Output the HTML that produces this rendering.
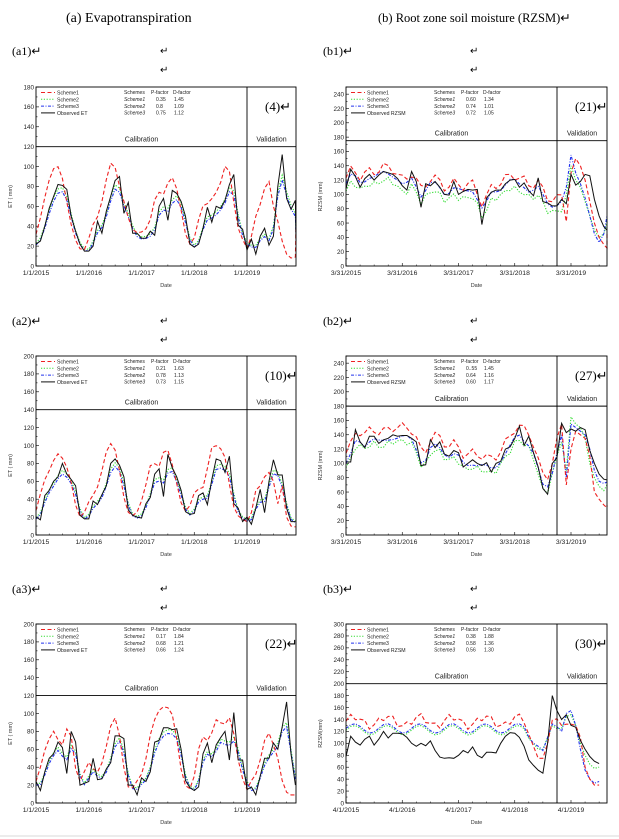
<!DOCTYPE html>
<html><head><meta charset="utf-8"><style>
html,body{margin:0;padding:0;background:#fff;width:619px;height:839px;overflow:hidden}
svg text{font-family:"Liberation Sans",sans-serif}
.s{font-family:"Liberation Serif",serif}
</style></head><body>
<svg id="g" width="619" height="839" xmlns="http://www.w3.org/2000/svg">
<text class="s" x="66" y="22" font-size="14">(a)  Evapotranspiration</text>
<text class="s" x="378" y="22" font-size="12.5">(b)  Root zone soil moisture (RZSM)↵</text>
<text class="s" x="12" y="55" font-size="12">(a1)↵</text><text class="s" x="160" y="54" font-size="10">↵</text><text class="s" x="160" y="73" font-size="10">↵</text>
<text class="s" x="323" y="55" font-size="12">(b1)↵</text><text class="s" x="470" y="54" font-size="10">↵</text><text class="s" x="470" y="73" font-size="10">↵</text>
<text class="s" x="12" y="325" font-size="12">(a2)↵</text><text class="s" x="160" y="324" font-size="10">↵</text><text class="s" x="160" y="343" font-size="10">↵</text>
<text class="s" x="323" y="325" font-size="12">(b2)↵</text><text class="s" x="470" y="324" font-size="10">↵</text><text class="s" x="470" y="343" font-size="10">↵</text>
<text class="s" x="12" y="593" font-size="12">(a3)↵</text><text class="s" x="160" y="592" font-size="10">↵</text><text class="s" x="160" y="611" font-size="10">↵</text>
<text class="s" x="323" y="593" font-size="12">(b3)↵</text><text class="s" x="470" y="592" font-size="10">↵</text><text class="s" x="470" y="611" font-size="10">↵</text>
<line x1="0" y1="836" x2="619" y2="836" stroke="#ccc" stroke-width="0.7"/>
</svg>
<script>
var NS="http://www.w3.org/2000/svg",G=document.getElementById("g");
function el(t,a,txt){var e=document.createElementNS(NS,t);for(var k in a)e.setAttribute(k,a[k]);if(txt!=null)e.textContent=txt;G.appendChild(e);return e;}
function sm(a){return a.map(function(v,i){var p=a[Math.max(0,i-1)],n=a[Math.min(a.length-1,i+1)];return (p+2*v+n)/4;});}
function panel(c){
 var L=c.L,R=c.R,T=c.T,B=c.B,ym=c.ymax,sy=function(v){return B-(v/ym)*(B-T);};
 for(var v=0;v<=ym;v+=10){var y=sy(v);var maj=v%20==0;
  el("line",{x1:L,y1:y,x2:L+(maj?3:1.5),y2:y,stroke:"#000","stroke-width":0.6});
  if(maj)el("text",{x:L-2,y:y+2.3,"font-size":6.3,"text-anchor":"end",fill:"#222"},v);}
 for(var k=0;k<c.xl.length;k++){var x=c.x0+k*c.dx;el("line",{x1:x,y1:B,x2:x,y2:B-3,stroke:"#000","stroke-width":0.6});
  el("text",{x:x,y:B+9,"font-size":6.8,"text-anchor":"middle",fill:"#222"},c.xl[k]);
  for(var m=1;m<4;m++){var xx=x+m*c.dx/4;if(xx<R)el("line",{x1:xx,y1:B,x2:xx,y2:B-1.5,stroke:"#000","stroke-width":0.5});}}
 el("text",{x:(L+R)/2,y:B+21,"font-size":5.5,"text-anchor":"middle",fill:"#333"},"Date");
 var yl=(L-24),ym2=(T+B)/2+20;el("text",{x:yl,y:ym2,"font-size":5.5,"text-anchor":"middle",fill:"#333",transform:"rotate(-90 "+yl+" "+ym2+")"},c.ylab);
 var hy=sy(c.hv);
 var dx=c.step,n=c.obs.length;
 function path(a,st,dash,w){var d="";for(var i=0;i<a.length;i++){var x=c.x0+i*dx;if(x>R)x=R;d+=(i?"L":"M")+x.toFixed(1)+","+sy(Math.max(0,a[i])).toFixed(1);}
  var at={d:d,fill:"none",stroke:st,"stroke-width":w||1};if(dash)at["stroke-dasharray"]=dash;el("path",at);}
 path(c.s2,"#33dd33","1.2 1.6",1.1);path(c.s3,"#2233ee","3 1.5 1 1.5",1.1);path(c.s1,"#ee2222","4 2.5",1.1);path(c.obs,"#111",null,1);
 el("rect",{x:L,y:T,width:R-L,height:B-T,fill:"none",stroke:"#000","stroke-width":0.9});
 el("line",{x1:L,y1:hy,x2:R,y2:hy,stroke:"#000","stroke-width":0.9});
 el("line",{x1:c.vx,y1:T,x2:c.vx,y2:B,stroke:"#000","stroke-width":0.9});
 el("text",{x:(L+c.vx)/2,y:hy-5,"font-size":7,"text-anchor":"middle",fill:"#222"},"Calibration");
 el("text",{x:(c.vx+R)/2,y:hy-5,"font-size":7,"text-anchor":"middle",fill:"#222"},"Validation");
 el("text",{x:c.vx+18,y:T+24,"font-size":13,"class":"s"},"("+c.num+")↵");
 var lg=[["#ee2222","4 2.5","Scheme1"],["#33dd33","1.2 1.6","Scheme2"],["#2233ee","3 1.5 1 1.5","Scheme3"],["#111",null,c.oname]];
 for(var j=0;j<4;j++){var y=T+5.5+j*6.8;var at={x1:L+5,y1:y,x2:L+19,y2:y,stroke:lg[j][0],"stroke-width":1};if(lg[j][1])at["stroke-dasharray"]=lg[j][1];el("line",at);
  el("text",{x:L+21,y:y+2,"font-size":5.2,fill:"#222"},lg[j][2]);}
 var tx=L+88;el("text",{x:tx,y:T+7,"font-size":5,fill:"#222"},"Schemes");el("text",{x:tx+27,y:T+7,"font-size":5,fill:"#222"},"P-factor");el("text",{x:tx+49,y:T+7,"font-size":5,fill:"#222"},"D-factor");
 for(j=0;j<3;j++){var y=T+14+j*6.8;el("text",{x:tx,y:y,"font-size":5,"font-style":"italic",fill:"#222"},"Scheme"+(j+1));
  el("text",{x:tx+32,y:y,"font-size":5,fill:"#222"},c.pf[j]);el("text",{x:tx+50,y:y,"font-size":5,fill:"#222"},c.df[j]);}
}
function etSims(o,amp,v1){var s=sm(o);var s1=s.map(function(v,i){var w=s[Math.min(s.length-1,i+1)];return 15+(w-15)*amp;});
 if(v1){for(var i=48;i<60;i++)s1[i]=v1[i-48];}
 return [s1,s.map(function(v){return v*0.97+1;}),s.map(function(v){return v*0.93;})];}
var ya=["1/1/2015","1/1/2016","1/1/2017","1/1/2018","1/1/2019"];
var yb=["3/31/2015","3/31/2016","3/31/2017","3/31/2018","3/31/2019"];
var yc=["4/1/2015","4/1/2016","4/1/2017","4/1/2018","4/1/2019"];
var A={L:36,R:296,vx:247,x0:36,dx:52.75,step:52.75/12,xl:ya,ylab:"ET ( mm)",oname:"Observed ET"};
var Bc={L:346,R:607,vx:557,x0:346,dx:56.25,step:56.25/12,xl:yb,ylab:"RZSM (mm)",oname:"Observed RZSM",ymax:250};
function mk(b,o){var r={};for(var k in b)r[k]=b[k];for(k in o)r[k]=o[k];return r;}
var o1=[22,25,40,58,70,82,81,77,50,35,22,15,15,20,45,33,55,70,86,90,53,64,33,33,28,28,35,31,60,68,46,76,73,65,50,22,19,22,38,59,44,60,58,66,82,92,41,37,16,27,12,30,38,21,30,80,112,68,57,66,25];
var s=etSims(o1,1.3,[18,30,50,62,78,85,60,45,25,12,8,9]);
panel(mk(A,{T:87,B:266,ymax:180,hv:120,obs:o1,s1:s[0],s2:s[1],s3:s[2],num:4,pf:["0.35","0.8","0.75"],df:["1.45","1.09","1.12"]}));
var o2=[20,17,44,50,60,65,80,68,62,55,22,18,18,38,34,45,55,80,85,78,65,28,22,20,19,35,42,68,74,43,90,75,65,50,26,23,24,44,47,34,62,85,83,70,88,35,30,15,20,12,30,51,25,60,84,67,67,30,15,15];
s=etSims(o2,1.3,[15,25,50,55,65,70,60,35,55,20,10,9]);
panel(mk(A,{T:356,B:535,ymax:200,hv:140,obs:o2,s1:s[0],s2:s[1],s3:s[2],num:10,pf:["0.21","0.78","0.73"],df:["1.63","1.13","1.15"]}));
var o3=[24,14,35,50,55,68,62,33,80,68,20,22,24,50,26,27,38,45,75,75,72,20,20,9,28,24,35,68,70,84,84,82,83,60,25,17,14,18,55,67,45,65,73,80,48,101,48,48,15,18,9,30,50,50,67,60,85,113,55,20];
s=etSims(o3,1.35,[15,25,32,48,70,78,65,50,25,12,9,9]);
panel(mk(A,{T:624,B:803,ymax:200,hv:120,obs:o3,s1:s[0],s2:s[1],s3:s[2],num:22,pf:["0.17","0.68","0.66"],df:["1.84","1.21","1.24"]}));
function rzSims(o,d1,d2,d3,v){var s=sm(o);var r=[s.map(function(x,i){return x+d1+6*Math.sin(i*1.7);}),s.map(function(x,i){return x+d2+4*Math.sin(i*2.3);}),s.map(function(x,i){return x+d3+3*Math.sin(i*1.1);})];
 if(v){for(var j=0;j<3;j++)for(var i=0;i<v[j].length;i++)r[j][47+i]=v[j][i];}return r;}
var b1=[108,135,125,110,122,128,120,127,132,130,128,122,112,106,132,118,82,115,112,118,110,100,99,118,100,104,107,106,107,58,95,103,106,106,115,120,121,110,116,105,98,123,90,88,84,84,93,87,128,113,118,128,126,93,70,55,50];
s=rzSims(b1,8,-10,0,[[62,130,150,140,120,90,60,40,30,25,45],[100,140,120,110,90,70,50,40,45,60,68],[110,155,130,115,95,70,45,33,45,70,70]]);
panel(mk(Bc,{T:87,B:266,hv:175,obs:b1,s1:s[0],s2:s[1],s3:s[2],num:21,pf:["0.60","0.74","0.72"],df:["1.34","1.01","1.05"]}));
var b2=[102,102,147,130,122,138,138,128,133,135,140,138,139,139,135,130,97,98,133,122,130,113,110,118,115,95,100,105,100,97,101,88,100,103,120,123,135,152,125,138,115,95,65,57,100,108,156,143,148,145,150,147,118,100,85,78,77];
s=rzSims(b2,12,-8,-2,[[70,120,145,140,135,110,60,50,42,38,42],[90,165,155,150,135,100,80,68,62,70,70],[80,155,150,145,140,120,90,75,72,74,74]]);
panel(mk(Bc,{T:356,B:535,hv:180,obs:b2,s1:s[0],s2:s[1],s3:s[2],num:27,pf:["0..55","0.64","0.60"],df:["1.45","1.16","1.17"]}));
var b3=[78,112,102,97,107,112,97,107,120,109,117,117,116,110,100,95,100,96,104,88,77,75,76,75,80,88,84,94,80,76,85,85,84,100,112,118,117,110,95,72,63,55,50,100,180,155,140,148,130,127,105,90,78,70,66];
var base=[];for(var i=0;i<55;i++)base.push(125+8*Math.sin(i*0.9));
for(i=39;i<44;i++)base[i]=[110,100,95,88,110][i-39];
var b3s1=base.map(function(v,i){return v+12+6*Math.sin(i*2.1);}),b3s2=base.map(function(v){return v-3;}),b3s3=base.map(function(v){return v;});
var v1=[130,132,132,130,110,60,40,30,30],v2=[125,145,148,130,100,80,65,58,60],v3=[120,150,155,130,90,55,40,33,36];
for(i=0;i<9;i++){b3s1[46+i]=v1[i];b3s2[46+i]=v2[i];b3s3[46+i]=v3[i];}
for(i=39;i<44;i++){b3s1[i]=[115,95,75,75,100][i-39];b3s2[i]=[108,100,90,90,110][i-39];}
panel(mk(Bc,{xl:yc,ymax:300,T:624,B:803,hv:200,obs:b3,s1:b3s1,s2:b3s2,s3:b3s3,num:30,ylab:"RZSM(mm)",pf:["0.38","0.58","0.56"],df:["1.88","1.36","1.30"]}));
</script>
</body></html>
